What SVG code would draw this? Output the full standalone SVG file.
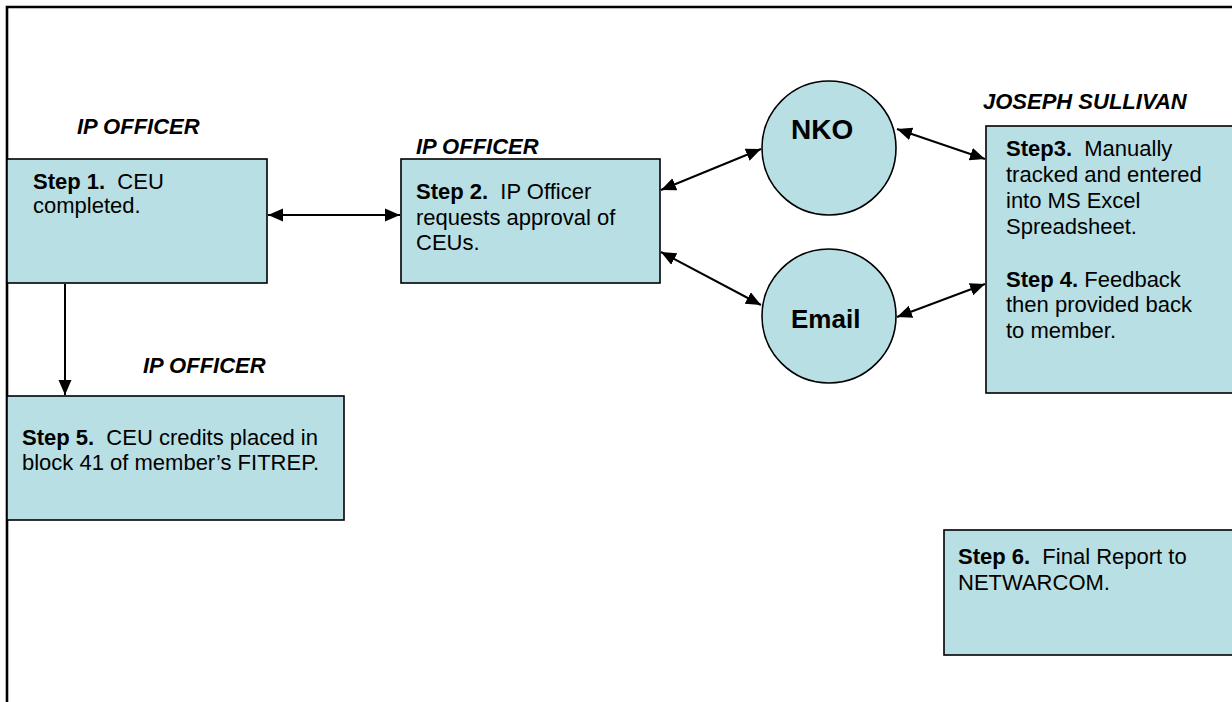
<svg xmlns="http://www.w3.org/2000/svg" width="1232" height="702" viewBox="0 0 1232 702">
<style>
.box{fill:#B8DFE3;stroke:#000;stroke-width:1.6}
.t{font-family:"Liberation Sans",Arial,sans-serif;font-size:22px;fill:#000}
.b{font-weight:bold}
.lbl{font-family:"Liberation Sans",Arial,sans-serif;font-size:22px;font-weight:bold;font-style:italic;fill:#000}
.con{stroke:#000;stroke-width:2;fill:none}
</style>
<defs>
<marker id="ah" markerUnits="userSpaceOnUse" markerWidth="18" markerHeight="16" refX="15" refY="6.5" orient="auto-start-reverse" viewBox="0 0 18 13">
<path d="M0,0 L15,6.5 L0,13 Z" fill="#000"/>
</marker>
</defs>
<rect width="1232" height="702" fill="#fff"/>
<g id="frame">
<path d="M7,702 L7,7 L1232,7" fill="none" stroke="#000" stroke-width="2.6"/>
</g>
<g id="labels">
<text class="lbl" x="77" y="134">IP OFFICER</text>
<text class="lbl" x="416" y="154">IP OFFICER</text>
<text class="lbl" x="983" y="109">JOSEPH SULLIVAN</text>
<text class="lbl" x="143" y="373">IP OFFICER</text>
</g>
<g id="step1">
<rect class="box" x="7" y="159" width="260" height="124"/>
<text class="t" x="33" y="189"><tspan class="b">Step 1.</tspan>&#160; CEU</text>
<text class="t" x="33" y="213">completed.</text>
</g>
<g id="step2">
<rect class="box" x="401" y="159" width="259" height="124"/>
<text class="t" x="416" y="199"><tspan class="b">Step 2.</tspan>&#160; IP Officer</text>
<text class="t" x="416" y="225">requests approval of</text>
<text class="t" x="416" y="250">CEUs.</text>
</g>
<g id="nko">
<circle class="box" cx="829" cy="148" r="67"/>
<text class="t b" x="791" y="139" style="font-size:28px">NKO</text>
</g>
<g id="email">
<circle class="box" cx="829" cy="316" r="67"/>
<text class="t b" x="791" y="328" style="font-size:26px">Email</text>
</g>
<g id="step3">
<rect class="box" x="986" y="126" width="260" height="267"/>
<text class="t" x="1006" y="156"><tspan class="b">Step3.</tspan>&#160; Manually</text>
<text class="t" x="1006" y="182">tracked and entered</text>
<text class="t" x="1006" y="208">into MS Excel</text>
<text class="t" x="1006" y="234">Spreadsheet.</text>
<text class="t" x="1006" y="287"><tspan class="b">Step 4.</tspan> Feedback</text>
<text class="t" x="1006" y="312">then provided back</text>
<text class="t" x="1006" y="338">to member.</text>
</g>
<g id="step5">
<rect class="box" x="7" y="396" width="337" height="124"/>
<text class="t" x="22" y="445"><tspan class="b">Step 5.</tspan>&#160; CEU credits placed in</text>
<text class="t" x="22" y="470">block 41 of member’s FITREP.</text>
</g>
<g id="step6">
<rect class="box" x="944" y="530" width="300" height="125"/>
<text class="t" x="958" y="564"><tspan class="b">Step 6.</tspan>&#160; Final Report to</text>
<text class="t" x="958" y="590">NETWARCOM.</text>
</g>
<g id="connectors">
<line class="con" x1="268" y1="215" x2="400" y2="215" marker-start="url(#ah)" marker-end="url(#ah)"/>
<line class="con" x1="65" y1="284" x2="65" y2="395" marker-end="url(#ah)"/>
<line class="con" x1="661" y1="190" x2="761" y2="149" marker-start="url(#ah)" marker-end="url(#ah)"/>
<line class="con" x1="661" y1="252" x2="761" y2="305" marker-start="url(#ah)" marker-end="url(#ah)"/>
<line class="con" x1="897" y1="129" x2="985" y2="159" marker-start="url(#ah)" marker-end="url(#ah)"/>
<line class="con" x1="897" y1="317" x2="985" y2="284" marker-start="url(#ah)" marker-end="url(#ah)"/>
</g>
</svg>
